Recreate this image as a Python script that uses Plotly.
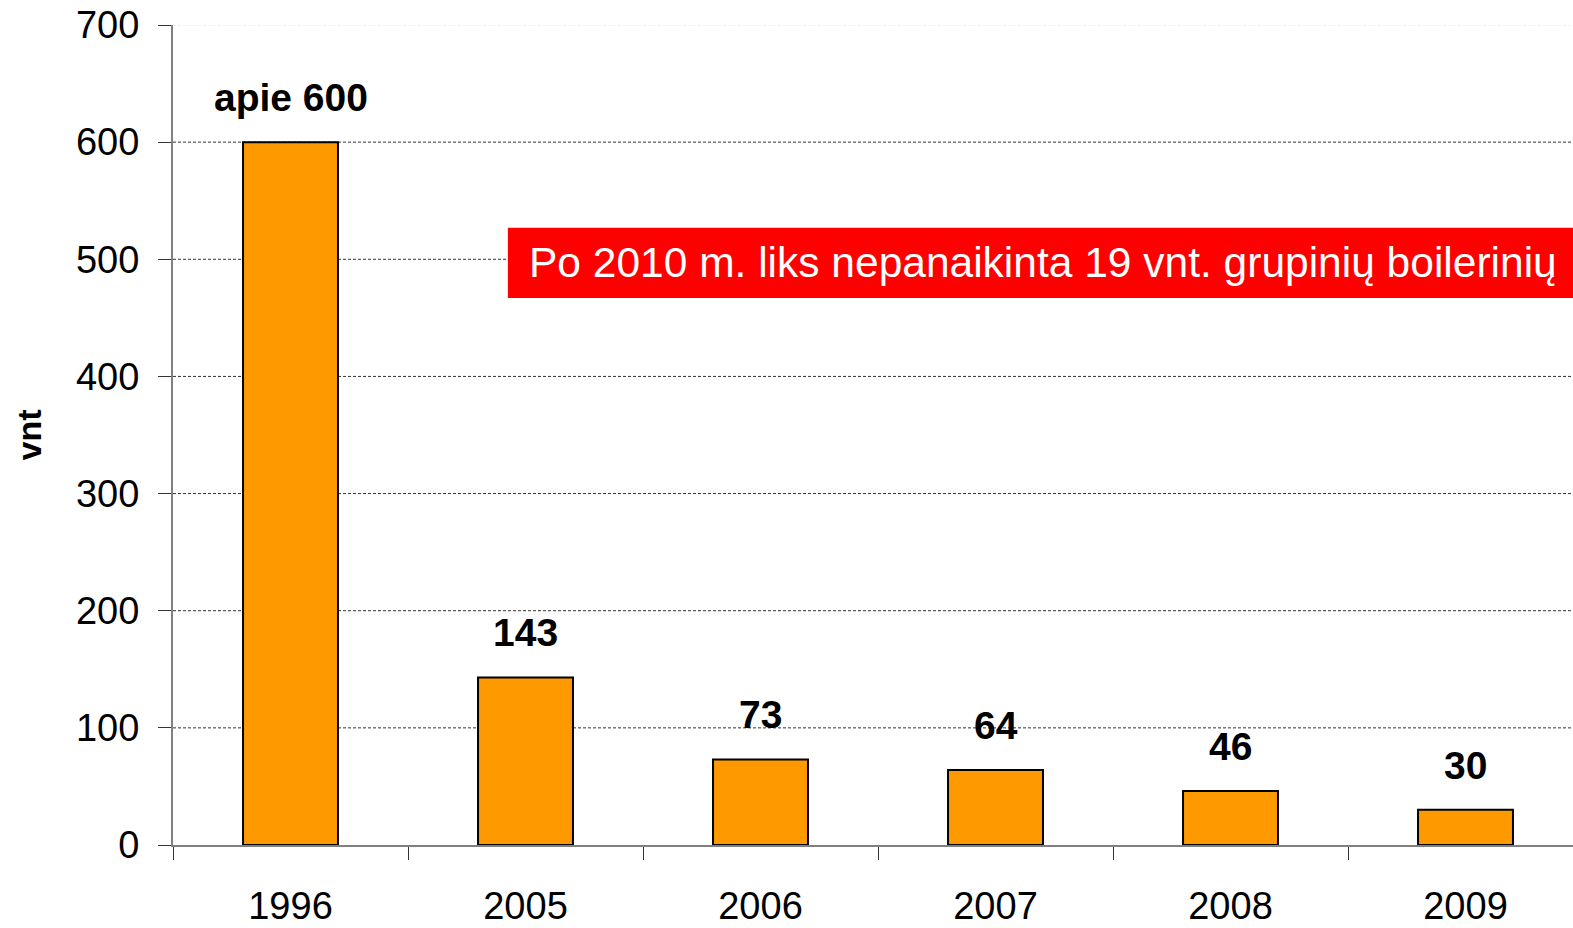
import plotly.graph_objects as go

years = ["1996", "2005", "2006", "2007", "2008", "2009"]
counts = [600, 143, 73, 64, 46, 30]
bar_labels = ["apie 600", "143", "73", "64", "46", "30"]
y_ticks = [0, 100, 200, 300, 400, 500, 600, 700]
note = "Po 2010 m. liks nepanaikinta 19 vnt. grupinių boilerinių"

FONT = "Arial, Liberation Sans, sans-serif"

fig = go.Figure()
fig.add_trace(go.Bar(
    x=years, y=counts, width=0.404,
    marker=dict(color="#FF9900", line=dict(color="black", width=2)),
    hoverinfo="x+y",
))

# value labels above bars (x by category index)
for i, (v, lab) in enumerate(zip(counts, bar_labels)):
    fig.add_annotation(x=i, y=v, xref="x", yref="y", text=f"<b>{lab}</b>", showarrow=False,
                       yanchor="bottom", yshift=21,
                       font=dict(family=FONT, size=39, color="black"))

# dashed gridlines; top one faint
for v in y_ticks[1:]:
    fig.add_shape(type="line", xref="paper", yref="y", x0=0, x1=1, y0=v, y1=v,
                  line=dict(color="#E6E6E6" if v == y_ticks[-1] else "#333333",
                            width=1, dash="3px,2px"),
                  layer="below")

# red note box
fig.add_shape(type="rect", xref="x", yref="y", x0=0.925, x1=6.5, y0=467, y1=527,
              fillcolor="#FF0000", line=dict(width=0), layer="above")
fig.add_annotation(x=1.005, y=497, xref="x", yref="y", text=note, showarrow=False,
                   xanchor="left", yanchor="middle",
                   font=dict(family=FONT, size=42.5, color="white"))

fig.update_layout(
    width=1583, height=928,
    margin=dict(l=173, r=0, t=25, b=83),
    plot_bgcolor="white", paper_bgcolor="white",
    showlegend=False,
    font=dict(family=FONT, color="black"),
)
fig.update_xaxes(
    type="category", range=[-0.5, 5.5],
    showline=True, linecolor="#808080", linewidth=2,
    ticks="outside", tickson="boundaries", ticklen=13, tickcolor="#333333", tickwidth=1,
    tickfont=dict(family=FONT, size=38), ticklabelstandoff=26,
    showgrid=False, zeroline=False,
)
fig.update_yaxes(
    range=[0, 700], tickvals=y_ticks,
    showline=True, linecolor="#808080", linewidth=2,
    ticks="outside", ticklen=13, tickcolor="#333333", tickwidth=1,
    tickfont=dict(family=FONT, size=38), ticklabelstandoff=11,
    showgrid=False, zeroline=False,
    title=dict(text="<b>vnt</b>", font=dict(family=FONT, size=34), standoff=24),
)

fig.write_html("out.html", config={"displayModeBar": False},
               post_script="document.body.style.margin='0';document.body.style.overflow='hidden';")
